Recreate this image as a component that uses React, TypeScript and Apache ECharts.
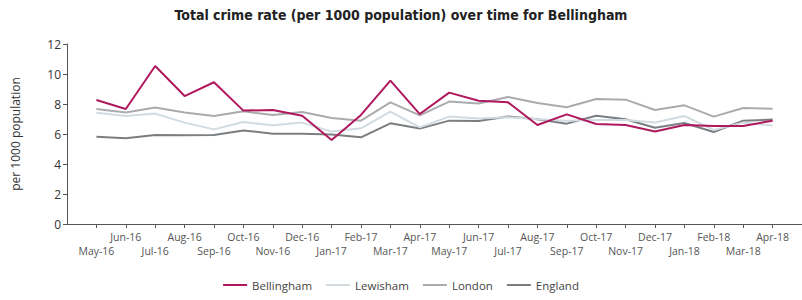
import React, { useEffect, useRef } from "react";
import * as echarts from "echarts";

const months = [
  "May-16", "Jun-16", "Jul-16", "Aug-16", "Sep-16", "Oct-16", "Nov-16", "Dec-16",
  "Jan-17", "Feb-17", "Mar-17", "Apr-17", "May-17", "Jun-17", "Jul-17", "Aug-17",
  "Sep-17", "Oct-17", "Nov-17", "Dec-17", "Jan-18", "Feb-18", "Mar-18", "Apr-18",
];

const bellingham = [8.27, 7.67, 10.53, 8.53, 9.45, 7.56, 7.6, 7.22, 5.6, 7.27, 9.56, 7.33, 8.76, 8.22, 8.11, 6.6, 7.31, 6.67, 6.6, 6.16, 6.6, 6.53, 6.53, 6.89];
const lewisham = [7.42, 7.2, 7.36, 6.76, 6.31, 6.8, 6.58, 6.76, 6.16, 6.38, 7.49, 6.44, 7.16, 7.04, 7.11, 6.98, 6.89, 6.93, 6.93, 6.76, 7.2, 6.27, 6.76, 6.56];
const london = [7.67, 7.44, 7.76, 7.44, 7.2, 7.51, 7.27, 7.47, 7.07, 6.89, 8.11, 7.24, 8.16, 8.04, 8.47, 8.07, 7.78, 8.33, 8.29, 7.6, 7.91, 7.16, 7.73, 7.69];
const england = [5.82, 5.71, 5.93, 5.91, 5.93, 6.24, 6.02, 6.02, 5.96, 5.78, 6.71, 6.36, 6.89, 6.87, 7.16, 6.98, 6.69, 7.22, 6.98, 6.42, 6.73, 6.13, 6.89, 6.96];

const yTicks = { min: 0, max: 12, interval: 2 };

const seriesDefs = [
  { name: "Bellingham", data: bellingham, color: "#b0185e" },
  { name: "Lewisham", data: lewisham, color: "#d2dbe0" },
  { name: "London", data: london, color: "#a9acae" },
  { name: "England", data: england, color: "#7b7e80" },
];

const FONT = "'Open Sans', sans-serif";

export default function App() {
  const ref = useRef<HTMLDivElement>(null);
  useEffect(() => {
    if (!ref.current) return;
    const chart = echarts.init(ref.current, null, { renderer: "svg" });
    chart.setOption({
      animation: false,
      backgroundColor: "#ffffff",
      title: {
        text: "Total crime rate (per 1000 population) over time for Bellingham",
        left: "center",
        top: 3,
        textStyle: {
          fontFamily: "'DejaVu Sans Condensed', 'Liberation Sans Narrow', sans-serif",
          fontSize: 14,
          fontWeight: 600,
          color: "#222222",
        },
      },
      legend: {
        bottom: 4,
        left: "center",
        icon: "rect",
        itemWidth: 24,
        itemHeight: 2,
        itemGap: 14,
        textStyle: { fontFamily: FONT, fontSize: 11.5, color: "#444444" },
        data: seriesDefs.map((s) => ({ name: s.name, itemStyle: { color: s.color } })),
      },
      grid: { left: 67, right: 0, top: 44, bottom: 76, containLabel: false },
      xAxis: {
        type: "value",
        min: -1,
        max: 24,
        interval: 1,
        splitLine: { show: false },
        axisLine: { show: true, onZero: false, lineStyle: { color: "#555555", width: 1 } },
        axisTick: { show: true, length: 4, lineStyle: { color: "#555555" } },
        axisLabel: {
          show: true,
          margin: 6,
          fontFamily: FONT,
          fontSize: 10.5,
          color: "#555555",
          lineHeight: 14,
          showMaxLabel: false,
          showMinLabel: false,
          formatter: (v: number) => {
            const i = Math.round(v);
            if (i < 0 || i >= months.length) return "";
            return i % 2 === 0 ? "\n" + months[i] : months[i] + "\n";
          },
        },
      },
      yAxis: {
        type: "value",
        min: yTicks.min,
        max: yTicks.max,
        interval: yTicks.interval,
        name: "per 1000 population",
        nameLocation: "middle",
        nameGap: 46,
        nameTextStyle: { fontFamily: FONT, fontSize: 12, color: "#333333" },
        splitLine: { show: false },
        axisLine: { show: true, onZero: false, lineStyle: { color: "#555555", width: 1 } },
        axisTick: { show: true, length: 4, lineStyle: { color: "#555555" } },
        axisLabel: { fontFamily: FONT, fontSize: 12, color: "#333333", margin: 6 },
      },
      series: seriesDefs
        .slice()
        .reverse()
        .map((s) => ({
          name: s.name,
          type: "line",
          data: s.data.map((v, i) => [i, v]),
          showSymbol: false,
          symbol: "none",
          lineStyle: { color: s.color, width: 2 },
          itemStyle: { color: s.color },
        })),
    });
    return () => chart.dispose();
  }, []);
  return (
    <div
      ref={ref}
      style={{ position: "absolute", left: 0, top: 0, width: 802, height: 300 }}
    />
  );
}
